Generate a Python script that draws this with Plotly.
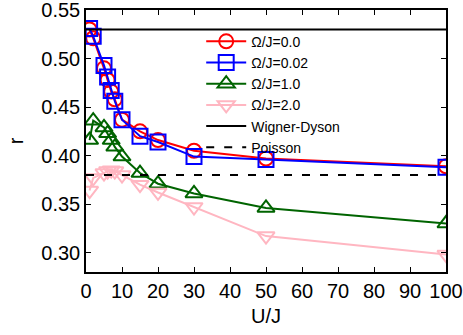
import plotly.graph_objects as go

# U/J values
u_j = [1, 2, 5, 6, 7, 8, 10, 15, 20, 30, 50, 100]

r_omega_00 = [0.530, 0.521, 0.490, 0.478, 0.466, 0.458, 0.437, 0.425, 0.416, 0.405, 0.397, 0.389]
r_omega_002 = [0.531, 0.523, 0.493, 0.481, 0.467, 0.456, 0.437, 0.420, 0.414, 0.399, 0.396, 0.388]
r_omega_10 = [0.416, 0.436, 0.429, 0.423, 0.416, 0.409, 0.399, 0.382, 0.371, 0.361, 0.346, 0.330]
r_omega_20 = [0.364, 0.377, 0.382, 0.384, 0.385, 0.384, 0.380, 0.370, 0.362, 0.347, 0.317, 0.298]

ref_x = [0, 100]
wigner_dyson = [0.53, 0.53]
poisson = [0.38, 0.38]

series_names = ["Ω/J=0.0", "Ω/J=0.02", "Ω/J=1.0", "Ω/J=2.0"]
x_ticks = [0, 10, 20, 30, 40, 50, 60, 70, 80, 90, 100]
y_ticks = [0.30, 0.35, 0.40, 0.45, 0.50, 0.55]

FONT = "Liberation Sans, Arial, sans-serif"

fig = go.Figure()

styles = [
    (r_omega_00, "#ff0000", "circle-open", 14),
    (r_omega_002, "#0000ff", "square-open", 15),
    (r_omega_10, "#006400", "triangle-up-open", 15),
    (r_omega_20, "#ffb6c1", "triangle-down-open", 15),
]
for name, (ys, color, sym, size) in zip(series_names, styles):
    fig.add_trace(go.Scatter(
        x=u_j, y=ys, name=name, mode="lines+markers",
        line=dict(color=color, width=2),
        marker=dict(symbol=sym, size=size, color=color, line=dict(color=color, width=2)),
    ))

fig.add_trace(go.Scatter(x=ref_x, y=wigner_dyson, name="Wigner-Dyson", mode="lines",
                         line=dict(color="black", width=2)))
fig.add_trace(go.Scatter(x=ref_x, y=poisson, name="Poisson", mode="lines",
                         line=dict(color="black", width=2, dash="8px,10px")))

axis_common = dict(
    showgrid=False, zeroline=False, showline=True, linecolor="black", linewidth=1.5,
    mirror="ticks", ticks="inside", ticklen=5, tickwidth=1, tickcolor="black",
    tickfont=dict(family=FONT, size=20, color="black"), automargin=False,
    ticklabeloverflow="allow",
)

fig.update_layout(
    width=463, height=335,
    margin=dict(l=86, r=17, t=10, b=63),
    paper_bgcolor="white", plot_bgcolor="white",
    font=dict(family=FONT, color="black"),
    xaxis=dict(range=[0, 100], tickvals=x_ticks,
               title=dict(text="U/J", font=dict(family=FONT, size=20), standoff=8),
               **axis_common),
    yaxis=dict(range=[0.28, 0.5501], tickvals=y_ticks, tickformat=".2f",
               title=dict(text="r", font=dict(family=FONT, size=20), standoff=12),
               **axis_common),
    legend=dict(x=0.32, y=0.94, xanchor="left", yanchor="top",
                bgcolor="rgba(0,0,0,0)", borderwidth=0,
                font=dict(family=FONT, size=14, color="black"),
                tracegroupgap=0, itemwidth=40),
    showlegend=True,
)

fig.write_html("out.html", config={"displayModeBar": False},
               post_script="document.body.style.margin='0';")
